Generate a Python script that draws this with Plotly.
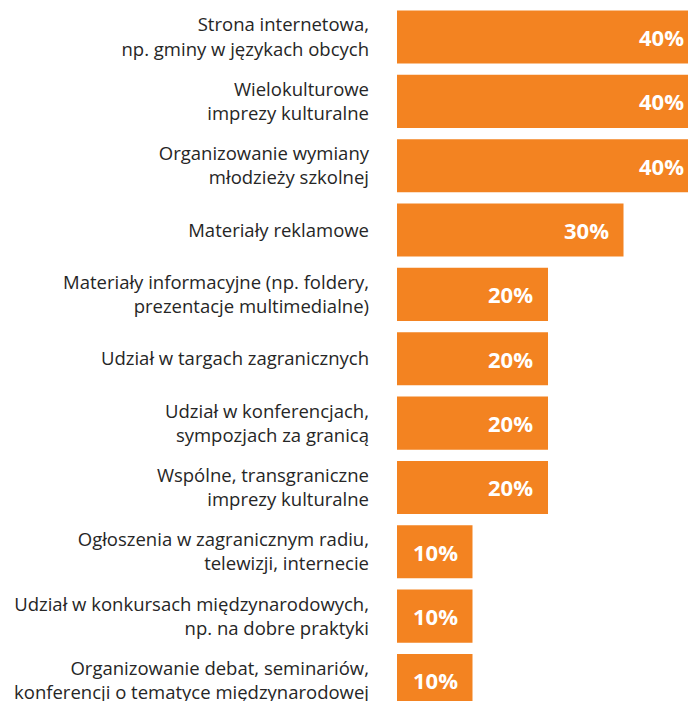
import plotly.graph_objects as go

categories = [
    "Strona internetowa,<br>np. gminy w językach obcych",
    "Wielokulturowe<br>imprezy kulturalne",
    "Organizowanie wymiany<br>młodzieży szkolnej",
    "Materiały reklamowe",
    "Materiały informacyjne (np. foldery,<br>prezentacje multimedialne)",
    "Udział w targach zagranicznych",
    "Udział w konferencjach,<br>sympozjach za granicą",
    "Wspólne, transgraniczne<br>imprezy kulturalne",
    "Ogłoszenia w zagranicznym radiu,<br>telewizji, internecie",
    "Udział w konkursach międzynarodowych,<br>np. na dobre praktyki",
    "Organizowanie debat, seminariów,<br>konferencji o tematyce międzynarodowej",
]
values = [40, 40, 40, 30, 20, 20, 20, 20, 10, 10, 10]
value_labels = [f"{v}%" for v in values]

ypos = list(range(len(categories)))
color = "#F38321"

fig = go.Figure(go.Bar(
    x=values, y=ypos, orientation="h",
    marker=dict(color=color, line=dict(width=0)),
    width=0.825,
    hoverinfo="skip",
))

for yi, v, t in zip(ypos, values, value_labels):
    fig.add_annotation(x=v, y=yi, xref="x", yref="y", text=f"<b>{t}</b>",
                       showarrow=False, xanchor="right", xshift=-13,
                       font=dict(family="Open Sans", size=22, color="white"))

fig.update_layout(
    width=696, height=701,
    margin=dict(l=389, r=0, t=0, b=0),
    paper_bgcolor="white", plot_bgcolor="white",
    showlegend=False,
    xaxis=dict(range=[0, 40.66], visible=False, fixedrange=True),
    yaxis=dict(range=[10.443, -0.451], tickmode="array", tickvals=ypos,
               ticktext=categories, showgrid=False, zeroline=False,
               showline=False, ticks="", ticklabelstandoff=27,
               tickfont=dict(family="Open Sans", size=18.5, color="#262626")),
)
fig.write_html("out.html")
